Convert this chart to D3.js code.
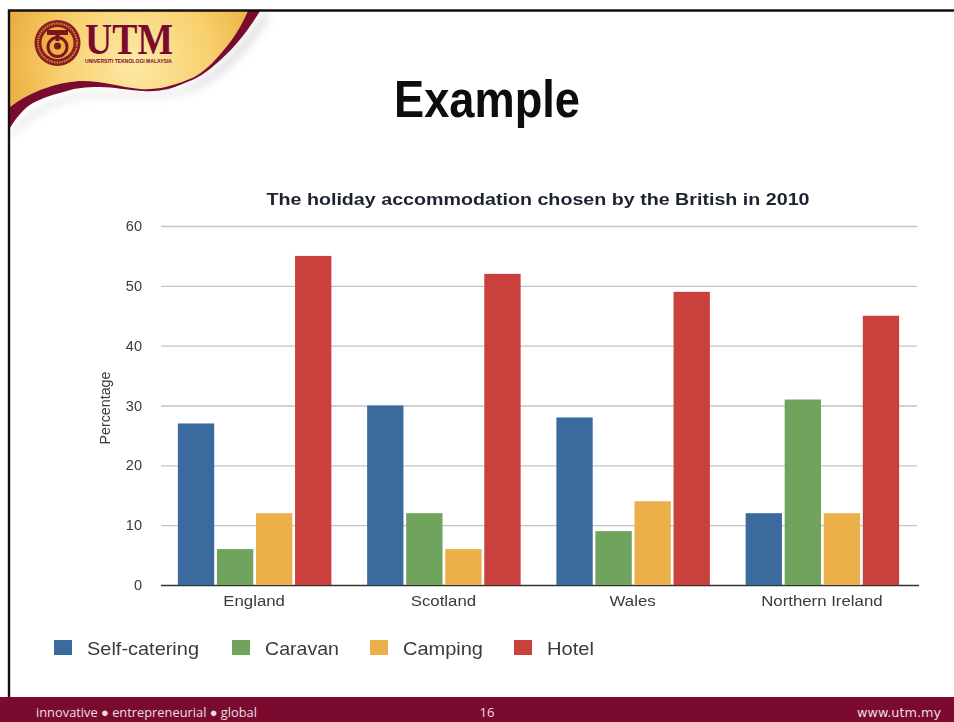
<!DOCTYPE html>
<html><head><meta charset="utf-8">
<script src="https://cdn.jsdelivr.net/npm/d3@7/dist/d3.min.js"></script>
<style>html,body{margin:0;padding:0;background:#fff}svg{display:block}</style>
</head><body><svg id="c" width="954" height="722"></svg>
<script>
const categories = ["England","Scotland","Wales","Northern Ireland"];
const seriesNames = ["Self-catering","Caravan","Camping","Hotel"];
const selfCatering = [27,30,28,12];
const caravan = [6,12,9,31];
const camping = [12,6,14,12];
const hotel = [55,52,49,45];
const yTicks = [0,10,20,30,40,50,60];
const colors = ["#3b6a9e","#6fa35c","#ecb04c","#c9403d"];
const seriesValues = [selfCatering,caravan,camping,hotel];

const svg = d3.select("#c");
const defs = svg.append("defs");
const gold = defs.append("radialGradient").attr("id","gold").attr("gradientUnits","userSpaceOnUse")
  .attr("cx",135).attr("cy",62).attr("r",140);
gold.append("stop").attr("offset","0").attr("stop-color","#fdeaa8");
gold.append("stop").attr("offset","0.55").attr("stop-color","#f8cf6c");
gold.append("stop").attr("offset","1").attr("stop-color","#e8a93a");
defs.append("filter").attr("id","blur").append("feGaussianBlur").attr("stdDeviation",4);
defs.append("filter").attr("id","soft").append("feGaussianBlur").attr("stdDeviation",0.5);

// header swoosh
svg.append("path").attr("d","M12 132 C30 108 60 94 100 92 C125 92 150 98 185 88 C215 75 245 40 264 12 L270 16 C250 50 222 82 188 92 C150 102 125 96 100 96 C60 98 32 113 12 138 Z")
  .attr("fill","#888").attr("opacity",0.25).attr("filter","url(#blur)");
svg.append("path").attr("d","M10 11 L249 11 C238 34 226 48 215 60 C205 71 196 77 187 80 C170 87 155 90 140 89 C120 87 103 81 83 81 C62 81 32 90 10 107 Z").attr("fill","url(#gold)");
svg.append("path").attr("d","M10 107 C32 90 62 81 83 81 C103 81 120 87 140 89 C155 90 170 87 187 80 C196 77 205 71 215 60 C226 48 238 34 248 11 L260 11 C246 34 232 50 217 63 C206 73 196 79 187 82 C170 90 157 92 143 91 C125 90 115 87 100 87 C85 87 76 88 67 91 C55 94 42 98 33 103 C24 108 16 118 10 128 Z").attr("fill","#7b0a2f");
// logo
const logo = svg.append("g").attr("filter","url(#soft)");
logo.append("circle").attr("cx",57.5).attr("cy",43).attr("r",23).attr("fill","#8a1c22");
logo.append("circle").attr("cx",57.5).attr("cy",43).attr("r",19.5).attr("fill","none").attr("stroke","#c98a3a").attr("stroke-width",2).attr("stroke-dasharray","1.5 1");
logo.append("circle").attr("cx",57.5).attr("cy",43).attr("r",16).attr("fill","#eeb040");
logo.append("rect").attr("x",47).attr("y",30).attr("width",21).attr("height",5).attr("fill","#7b1420");
logo.append("rect").attr("x",55.5).attr("y",33).attr("width",4).attr("height",8).attr("fill","#7b1420");
logo.append("circle").attr("cx",57.5).attr("cy",47).attr("r",9.5).attr("fill","none").attr("stroke","#7b1420").attr("stroke-width",3);
logo.append("circle").attr("cx",57.5).attr("cy",46).attr("r",3.5).attr("fill","#7b1420");
svg.append("text").attr("x",85).attr("y",54).attr("font-family","Liberation Serif").attr("font-weight",700).attr("font-size",45).attr("fill","#7b0a2f").attr("textLength",88).attr("lengthAdjust","spacingAndGlyphs").text("UTM");
svg.append("text").attr("x",85).attr("y",63).attr("font-family","Liberation Sans").attr("font-weight",700).attr("font-size",5.4).attr("fill","#7b0a2f").attr("textLength",87).attr("lengthAdjust","spacingAndGlyphs").text("UNIVERSITI TEKNOLOGI MALAYSIA");
// border lines
svg.append("path").attr("d","M9 722 L9 10.5 L954 10.5").attr("fill","none").attr("stroke","#111").attr("stroke-width",2.4);
// slide title
svg.append("text").attr("x",487).attr("y",117).attr("text-anchor","middle").attr("font-family","Liberation Sans Narrow, Liberation Sans").attr("font-weight",700).attr("font-size",52).attr("fill","#0d0d0d").attr("textLength",186).attr("lengthAdjust","spacingAndGlyphs").text("Example");

// chart
const x0 = d3.scaleBand().domain(categories).range([160,917]);
const x1 = d3.scaleBand().domain(seriesNames).range([0,153.5]).paddingInner(0.07);
const y = d3.scaleLinear().domain([0,60]).range([585,226]);
const chart = svg.append("g").attr("filter","url(#soft)");

const yAxis = d3.axisLeft(y).tickValues(yTicks).tickSize(0).tickPadding(19);
const gy = chart.append("g").attr("transform","translate(161,0)").call(yAxis);
gy.select(".domain").remove();
gy.selectAll("text").attr("font-family","Liberation Sans").attr("font-size",14.5).attr("fill","#3a3a3a");
gy.selectAll(".tick").append("line").attr("x1",0).attr("x2",d=>d===0?758:756).attr("y1",0).attr("y2",0)
  .attr("stroke",d=>d===0?"#333":"#c4c4c4").attr("stroke-width",d=>d===0?1.6:1.4);

const groups = chart.selectAll("g.grp").data(categories).join("g").attr("class","grp")
  .attr("transform",d=>`translate(${x0(d)+(x0.bandwidth()-153.5)/2},0)`);
groups.selectAll("rect").data((d,i)=>seriesNames.map((s,j)=>({s,j,v:seriesValues[j][i]}))).join("rect")
  .attr("x",d=>x1(d.s)).attr("width",x1.bandwidth()).attr("y",d=>y(d.v)).attr("height",d=>y(0)-y(d.v)).attr("fill",d=>colors[d.j]);

const xAxis = d3.axisBottom(x0).tickSize(0).tickPadding(10);
const gx = chart.append("g").attr("transform","translate(-0.5,585)").call(xAxis);
gx.select(".domain").remove();
gx.selectAll("text").attr("font-family","Liberation Sans").attr("font-size",14).attr("fill","#3a3a3a")
  .attr("y",21).attr("dy",0)
  .each(function(){const w=this.getComputedTextLength();d3.select(this).attr("textLength",w*1.2).attr("lengthAdjust","spacingAndGlyphs");});

chart.append("text").attr("transform","translate(110,408) rotate(-90)").attr("text-anchor","middle").attr("font-family","Liberation Sans").attr("font-size",14).attr("fill","#3a3a3a").attr("textLength",73).attr("lengthAdjust","spacingAndGlyphs").text("Percentage");
chart.append("text").attr("x",538).attr("y",205).attr("text-anchor","middle").attr("font-family","Liberation Sans").attr("font-weight",700).attr("font-size",16.5).attr("fill","#1e2430").attr("textLength",543).attr("lengthAdjust","spacingAndGlyphs").text("The holiday accommodation chosen by the British in 2010");

// legend
const legX = [54,232,370,514];
const legW = [112,74,80,47];
const leg = chart.selectAll("g.leg").data(seriesNames).join("g").attr("class","leg").attr("transform",(d,i)=>`translate(${legX[i]},0)`);
leg.append("rect").attr("y",640).attr("width",18).attr("height",15).attr("fill",(d,i)=>colors[i]);
leg.append("text").attr("x",33).attr("y",655).attr("font-family","Liberation Sans").attr("font-size",18.5).attr("fill","#3a3a3a")
  .attr("textLength",(d,i)=>legW[i]).attr("lengthAdjust","spacingAndGlyphs").text(d=>d);

// footer
svg.append("rect").attr("x",0).attr("y",697).attr("width",954).attr("height",25).attr("fill","#7b0a2f");
const foot = [[36,"start","innovative ● entrepreneurial ● global",221],[487,"middle","16",15],[941,"end","www.utm.my",84]];
svg.selectAll("text.foot").data(foot).join("text").attr("class","foot").attr("x",d=>d[0]).attr("y",717).attr("text-anchor",d=>d[1])
  .attr("font-family",d=>d[2]==="www.utm.my"?"DejaVu Sans":"Open Sans").attr("font-size",13).attr("fill","#e9dfe2")
  .attr("textLength",d=>d[3]).attr("lengthAdjust","spacingAndGlyphs").text(d=>d[2]);
</script></body></html>
